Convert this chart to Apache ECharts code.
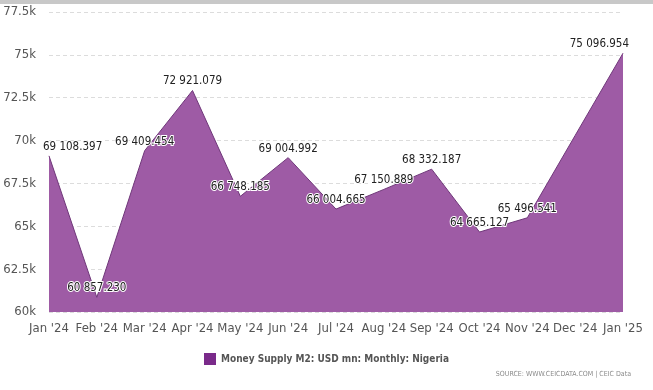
<!DOCTYPE html>
<html>
<head>
<meta charset="utf-8">
<style>html,body{margin:0;padding:0;background:#fff;}#c{width:653px;height:390px;}</style>
<script src="https://cdn.jsdelivr.net/npm/echarts@6/dist/echarts.min.js"></script>
</head>
<body>
<div id="c"></div>
<script>
const categories = ["Jan '24","Feb '24","Mar '24","Apr '24","May '24","Jun '24","Jul '24","Aug '24","Sep '24","Oct '24","Nov '24","Dec '24","Jan '25"];
const values = [69108.397, 60857.230, 69409.454, 72921.079, 66748.185, 69004.992, 66004.665, 67150.889, 68332.187, 64665.127, 65496.541, 70300, 75096.954];
const showLabel = [true,true,true,true,true,true,true,true,true,true,true,false,true];
const seriesName = 'Money Supply M2: USD mn: Monthly: Nigeria';
const sourceText = 'SOURCE: WWW.CEICDATA.COM | CEIC Data';

const FONT = "'DejaVu Sans Condensed','Liberation Sans Narrow',sans-serif";
function fmt(v){
  const s = v.toFixed(3);
  const [i,d] = s.split('.');
  return i.replace(/\B(?=(\d{3})+(?!\d))/g,' ') + '.' + d;
}
const last = values.length - 1;
function labelFor(i){
  const l = {show:showLabel[i]};
  if(i===0){ l.align='left'; l.offset=[-6,0]; }
  if(i===last){ l.align='right'; l.offset=[6,0]; }
  return l;
}
const chart = echarts.init(document.getElementById('c'));
chart.setOption({
  animation:false,
  grid:{left:49,right:30,top:12,bottom:78},
  graphic:[
    {type:'rect',shape:{x:0,y:0,width:653,height:4},style:{fill:'#c8c8c8'}},
    {type:'text',right:22,top:371,style:{text:sourceText,fill:'#8a8a8a',font:"7px "+FONT}}
  ],
  legend:{
    bottom:20,left:'center',icon:'rect',itemWidth:12,itemHeight:12,itemGap:4,
    textStyle:{color:'#555',fontSize:10,fontWeight:'bold',fontFamily:FONT},
    data:[{name:seriesName,itemStyle:{color:'#7a2a8a'}}]
  },
  xAxis:{
    type:'category',data:categories,boundaryGap:false,
    axisLine:{show:false},axisTick:{show:false},
    axisLabel:{color:'#555',fontSize:13,fontFamily:FONT,margin:10,interval:0}
  },
  yAxis:{
    type:'value',min:60000,max:77500,interval:2500,
    axisLabel:{color:'#555',fontSize:13,fontFamily:FONT,margin:13,formatter:v=>(v/1000)+'k'},
    splitLine:{lineStyle:{color:'#dcdcdc',type:[4,3]}},
    axisLine:{show:false},axisTick:{show:false}
  },
  series:[{
    name:seriesName,type:'line',symbol:'circle',symbolSize:0,showSymbol:true,
    data:values.map((v,i)=>({value:v,label:labelFor(i)})),
    lineStyle:{color:'#6f3779',width:1},
    areaStyle:{color:'#9e5ba5',opacity:1},
    itemStyle:{color:'#7a2a8a'},
    label:{show:true,position:'top',distance:3,color:'#222',fontSize:11.5,fontFamily:FONT,
      textBorderColor:'#fff',textBorderWidth:2,formatter:p=>fmt(p.value)}
  }]
});
</script>
</body>
</html>
